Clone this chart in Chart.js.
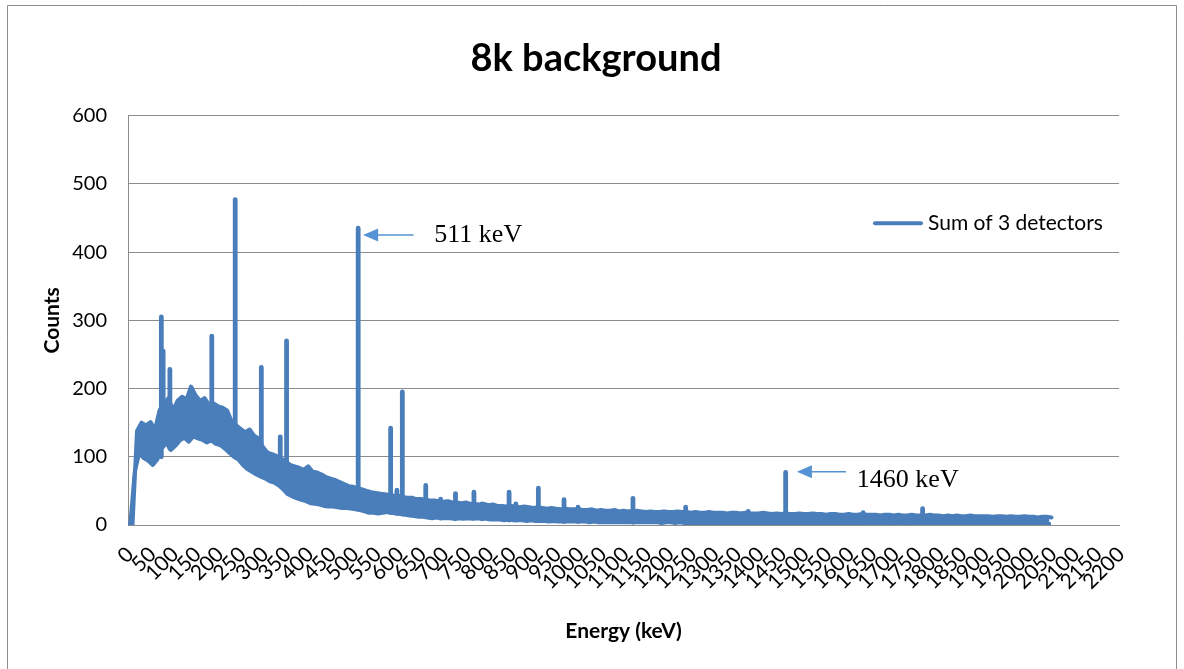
<!DOCTYPE html>
<html>
<head>
<meta charset="utf-8">
<script src="https://cdn.jsdelivr.net/npm/chart.js@4.4.1/dist/chart.umd.min.js"></script>
<style>
html,body{margin:0;padding:0;background:#fff;}
#wrap{position:relative;width:1184px;height:669px;}
</style>
</head>
<body>
<div id="wrap"><canvas id="c" width="1184" height="669"></canvas></div>
<script>
// ---- Data ----
// Tick labels
const energyTicks = [0,50,100,150,200,250,300,350,400,450,500,550,600,650,700,750,800,850,900,950,1000,1050,1100,1150,1200,1250,1300,1350,1400,1450,1500,1550,1600,1650,1700,1750,1800,1850,1900,1950,2000,2050,2100,2150,2200];
const countTicks = [0,100,200,300,400,500,600];

// Upper edge of the noisy spectrum band, at 0, 10, 20 ... 2050 keV
const countsHigh = [
  0, 0, 138, 150, 146, 151, 140, 168, 178, 186,
  168, 182, 188, 184, 203, 190, 182, 186, 176, 178,
  174, 172, 168, 152, 146, 141, 136, 140, 131, 127,
  114, 106, 104, 101, 97, 93, 88, 86, 84, 81,
  86, 78, 77, 74, 70, 68, 66, 63, 60, 57,
  56, 54, 52, 50, 48, 47, 46, 45, 44, 43,
  43, 41, 40, 40, 38, 38, 37, 36, 36, 35,
  34, 35, 33, 33, 32, 33, 31, 31, 30, 31,
  29, 30, 28, 28, 27, 28, 27, 26, 27, 26,
  25, 26, 25, 24, 25, 24, 23, 24, 23, 23,
  23, 22, 22, 23, 21, 22, 21, 21, 22, 20,
  21, 20, 20, 21, 20, 19, 20, 19, 19, 20,
  19, 19, 20, 19, 19, 18, 19, 18, 18, 19,
  18, 18, 18, 17, 18, 18, 17, 18, 17, 17,
  17, 18, 17, 16, 17, 16, 17, 16, 16, 17,
  16, 16, 17, 16, 16, 15, 16, 16, 15, 15,
  16, 15, 15, 16, 15, 15, 15, 14, 15, 15,
  14, 15, 14, 14, 15, 14, 14, 14, 15, 14,
  14, 13, 14, 13, 14, 13, 13, 14, 13, 13,
  13, 13, 12, 13, 13, 12, 13, 12, 12, 13,
  12, 12, 11, 12, 12, 11
];
// Lower edge of the band, at 5, 15, 25 ... 2045 keV
const countsLow = [
  0, 78, 106, 98, 94, 88, 96, 114, 120, 110,
  116, 124, 128, 122, 130, 127, 125, 121, 124, 119,
  117, 112, 106, 100, 96, 88, 82, 78, 74, 71,
  68, 64, 62, 58, 52, 45, 42, 39, 37, 35,
  32, 31, 30, 28, 27, 27, 26, 25, 25, 24,
  23, 22, 20, 18, 18, 17, 18, 19, 18, 17,
  16, 15, 14, 13, 12, 12, 11, 10, 11, 10,
  10, 10, 9, 10, 9, 10, 9, 10, 9, 9,
  8, 8, 8, 7, 8, 7, 7, 7, 6, 7,
  6, 6, 6, 5, 6, 5, 5, 5, 5, 5,
  5, 5, 4, 5, 4, 4, 4, 4, 4, 4,
  4, 4, 4, 4, 4, 4, 4, 4, 3, 4,
  4, 3, 4, 3, 3, 3, 3, 3, 3, 3,
  3, 3, 3, 3, 3, 3, 3, 3, 3, 3,
  3, 3, 3, 3, 3, 3, 3, 3, 3, 3,
  3, 3, 3, 2, 3, 3, 3, 2, 3, 3,
  2, 3, 2, 3, 2, 2, 3, 2, 2, 3,
  2, 2, 2, 3, 2, 2, 2, 2, 2, 2,
  2, 2, 2, 2, 2, 2, 2, 2, 2, 2,
  2, 2, 2, 2, 2, 2, 2, 2, 2, 2,
  2, 2, 2, 2, 2
];
// Photopeaks: energy, top count, and the band floor under each peak
const peakEnergies = [74, 78, 93, 186, 238, 296, 338, 352, 511, 583, 597, 609, 661, 694, 727, 768, 786, 846, 861, 911, 968, 999, 1121, 1238, 1377, 1460, 1632, 1764];
const peakCounts   = [305, 255, 228, 277, 477, 231, 129, 270, 435, 142, 51, 195, 58, 38, 46, 48, 31, 48, 31, 54, 37, 26, 39, 26, 20, 77, 18, 24];
const peakBases    = [100, 115, 112, 124, 100, 72, 58, 50, 23, 18, 17, 16, 12, 10, 9, 10, 9, 7, 7, 6, 5, 5, 4, 3, 3, 3, 2, 2];

const chartTitle = '8k background';
const seriesName = 'Sum of 3 detectors';
const annotations = [
  {text: '511 keV',  tip: [522, 425],  tail: [634, 425],  label: [680, 415]},
  {text: '1460 keV', tip: [1485, 78],  tail: [1594, 78],  label: [1618, 56]}
];

// ---- Build the band edges and the peak strokes ----
const upperPoints = countsHigh.map((v, i) => ({x: i * 10, y: v}));
const lowerPoints = countsLow.map((v, i) => ({x: i * 10 + 5, y: v}));
const peakPoints = [];
peakEnergies.forEach((e, i) => {
  peakPoints.push({x: e, y: peakBases[i]}, {x: e, y: peakCounts[i]}, {x: e, y: null});
});

const BLUE = '#4a7ebb';
const ARROW = '#5593d4';
const GRID = '#8c8c8c';

const extras = {
  id: 'extras',
  afterDatasetsDraw(chart) {
    const {ctx, chartArea, scales: {x, y}} = chart;
    ctx.save();
    // outer frame
    ctx.strokeStyle = GRID; ctx.lineWidth = 1;
    ctx.beginPath();
    ctx.moveTo(7.5, 669); ctx.lineTo(7.5, 5.5); ctx.lineTo(1176.5, 5.5); ctx.lineTo(1176.5, 669);
    ctx.stroke();
    // title
    ctx.fillStyle = '#000'; ctx.font = 'bold 38px Lato'; ctx.textAlign = 'center'; ctx.textBaseline = 'middle';
    ctx.fillText(chartTitle, 596, 59);
    // legend
    const lx = chartArea.right - 244, ly = chartArea.top + 107.5;
    ctx.strokeStyle = BLUE; ctx.lineWidth = 4; ctx.lineCap = 'round';
    ctx.beginPath(); ctx.moveTo(lx, ly); ctx.lineTo(lx + 46, ly); ctx.stroke();
    ctx.fillStyle = '#000'; ctx.font = '21px Lato'; ctx.textBaseline = 'middle'; ctx.textAlign = 'left';
    ctx.fillText(seriesName, lx + 53, ly);
    // annotations
    annotations.forEach(a => {
      const tx = x.getPixelForValue(a.tip[0]), ty = y.getPixelForValue(a.tip[1]);
      const sx = x.getPixelForValue(a.tail[0]), sy = y.getPixelForValue(a.tail[1]);
      const ang = Math.atan2(ty - sy, tx - sx);
      const L = 15, W = 6.5;
      ctx.strokeStyle = ARROW; ctx.fillStyle = ARROW; ctx.lineWidth = 1.5; ctx.lineCap = 'butt';
      ctx.beginPath(); ctx.moveTo(sx, sy); ctx.lineTo(tx - (L - 2) * Math.cos(ang), ty - (L - 2) * Math.sin(ang)); ctx.stroke();
      ctx.beginPath();
      ctx.moveTo(tx, ty);
      ctx.lineTo(tx - L * Math.cos(ang) + W * Math.sin(ang), ty - L * Math.sin(ang) - W * Math.cos(ang));
      ctx.lineTo(tx - L * Math.cos(ang) - W * Math.sin(ang), ty - L * Math.sin(ang) + W * Math.cos(ang));
      ctx.closePath(); ctx.fill();
      ctx.fillStyle = '#000'; ctx.font = '26px "Liberation Serif"'; ctx.textAlign = 'left'; ctx.textBaseline = 'alphabetic';
      ctx.fillText(a.text, x.getPixelForValue(a.label[0]), y.getPixelForValue(a.label[1]));
    });
    ctx.restore();
  }
};

function build() {
  Chart.defaults.font.family = 'Lato';
  const lineStyle = {borderColor: BLUE, backgroundColor: BLUE, borderWidth: 4, pointRadius: 0, tension: 0,
                     borderJoinStyle: 'round', borderCapStyle: 'round', spanGaps: false};
  new Chart(document.getElementById('c').getContext('2d'), {
    type: 'line',
    data: {datasets: [
      Object.assign({label: seriesName, data: upperPoints, fill: '+1'}, lineStyle),
      Object.assign({label: seriesName + ' (lower)', data: lowerPoints, fill: false}, lineStyle),
      Object.assign({label: seriesName + ' (peaks)', data: peakPoints, fill: false}, lineStyle, {borderWidth: 4.8})
    ]},
    options: {
      responsive: false, animation: false, devicePixelRatio: 1,
      layout: {padding: {left: 0, right: 65, top: 115.7, bottom: 0}},
      plugins: {legend: {display: false}, tooltip: {enabled: false}, title: {display: false}},
      scales: {
        x: {
          type: 'linear', min: 0, max: 2200,
          afterBuildTicks: s => { s.ticks = energyTicks.map(v => ({value: v})); },
          ticks: {autoSkip: false, maxRotation: 45, minRotation: 45, padding: 17, labelOffset: 2,
                  color: '#000', font: {size: 21}, callback: v => String(v)},
          grid: {display: false, drawTicks: false},
          border: {display: true, color: GRID, width: 1},
          title: {display: true, text: 'Energy (keV)', color: '#000',
                  font: {size: 21, weight: 'bold'}, padding: {top: 0, bottom: 25}},
          afterFit: s => { s.height = 144; }
        },
        y: {
          min: 0, max: 600,
          afterBuildTicks: s => { s.ticks = countTicks.map(v => ({value: v})); },
          ticks: {padding: 21, color: '#000', font: {size: 20}, callback: v => String(v)},
          grid: {color: GRID, drawTicks: false},
          border: {display: true, color: GRID, width: 1},
          title: {display: true, text: 'Counts', color: '#000',
                  font: {size: 21, weight: 'bold'}, padding: {top: 40, bottom: 0}},
          afterFit: s => { s.width = 128; }
        }
      }
    },
    plugins: [extras]
  });
}

if (document.fonts && document.fonts.load) {
  Promise.all([
    document.fonts.load('20px Lato'), document.fonts.load('bold 20px Lato'),
    document.fonts.load('26px "Liberation Serif"')
  ]).then(build, build);
} else { build(); }
</script>
</body>
</html>
